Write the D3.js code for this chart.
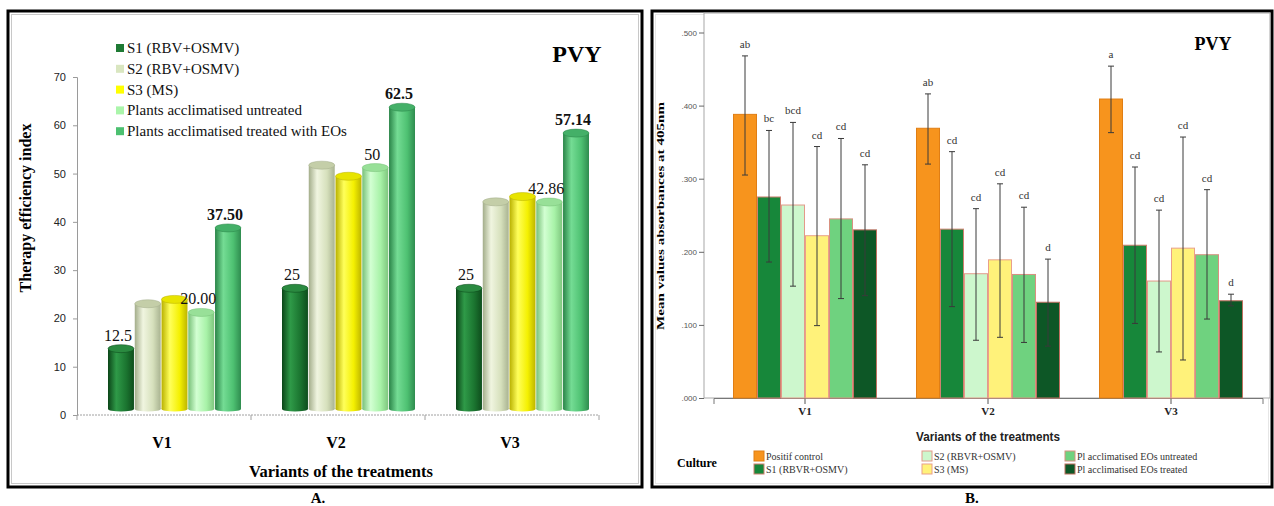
<!DOCTYPE html>
<html>
<head>
<meta charset="utf-8">
<script src="https://cdn.jsdelivr.net/npm/d3@7/dist/d3.min.js"></script>
<style>
  html, body { margin: 0; padding: 0; background: #fff; }
  svg { display: block; }
</style>
</head>
<body>
<svg id="chart" width="1274" height="506"></svg>
<script>
// ---------- Panel A: therapy efficiency index ----------
const variants = ["V1", "V2", "V3"];
const seriesA = [
  "S1 (RBV+OSMV)",
  "S2 (RBV+OSMV)",
  "S3 (MS)",
  "Plants acclimatised untreated",
  "Plants acclimatised treated with EOs"
];
const efficiencyS1 = [12.5, 25, 25];
const efficiencyS2 = [21.8, 50.5, 42.9];
const efficiencyS3 = [22.7, 48.2, 44.0];
const efficiencyUntreated = [20.00, 50, 42.86];
const efficiencyTreated = [37.50, 62.5, 57.14];
const labelS1 = ["12.5", "25", "25"];
const labelS2 = [null, null, null];
const labelS3 = [null, null, null];
const labelUntreated = ["20.00", "50", "42.86"];
const labelTreated = ["37.50", "62.5", "57.14"];
const efficiencyTicks = [0, 10, 20, 30, 40, 50, 60, 70];

// ---------- Panel B: ELISA absorbance ----------
const cultures = [
  "Positif control",
  "S1 (RBVR+OSMV)",
  "S2 (RBVR+OSMV)",
  "S3 (MS)",
  "Pl acclimatised EOs untreated",
  "Pl acclimatised EOs treated"
];
const meanPositif   = [0.388, 0.369, 0.409];
const meanS1        = [0.275, 0.231, 0.209];
const meanS2        = [0.264, 0.170, 0.160];
const meanS3        = [0.222, 0.189, 0.205];
const meanUntreated = [0.245, 0.169, 0.196];
const meanTreated   = [0.230, 0.131, 0.133];
const lowPositif    = [0.305, 0.320, 0.363];
const highPositif   = [0.468, 0.416, 0.454];
const lowS1         = [0.186, 0.125, 0.102];
const highS1        = [0.366, 0.337, 0.316];
const lowS2         = [0.153, 0.079, 0.063];
const highS2        = [0.377, 0.259, 0.257];
const lowS3         = [0.099, 0.083, 0.052];
const highS3        = [0.344, 0.293, 0.357];
const lowUntreated  = [0.136, 0.076, 0.108];
const highUntreated = [0.355, 0.261, 0.285];
const lowTreated    = [0.140, 0.071, 0.126];
const highTreated   = [0.319, 0.190, 0.142];
const groupPositif   = ["ab", "ab", "a"];
const groupS1        = ["bc", "cd", "cd"];
const groupS2        = ["bcd", "cd", "cd"];
const groupS3        = ["cd", "cd", "cd"];
const groupUntreated = ["cd", "cd", "cd"];
const groupTreated   = ["cd", "d", "d"];
const absorbanceTicks = [0, 0.1, 0.2, 0.3, 0.4, 0.5];

const svg = d3.select("#chart");
const defs = svg.append("defs");
const serif = "'Liberation Serif', 'Times New Roman', serif";
const sans = "'Liberation Sans', Arial, sans-serif";

// ================= Panel A =================
const cylinderColors = [
  { edge: "#0b4518", light: "#2f9a48", base: "#1b7530", dark: "#0e4d1c", top: "#2a8a40", key: "#1e7a34" },
  { edge: "#a3ad8a", light: "#f0f5e0", base: "#d6e0bc", dark: "#a9b391", top: "#c4cea8", key: "#d9e6c0" },
  { edge: "#b8b000", light: "#ffff5a", base: "#f4f000", dark: "#bdb500", top: "#e8e400", key: "#ffff00" },
  { edge: "#78c078", light: "#d2ffd2", base: "#a8f2a8", dark: "#7ec67e", top: "#98e098", key: "#aaf5aa" },
  { edge: "#2a8448", light: "#74dc94", base: "#4ec172", dark: "#2f8c4f", top: "#44b068", key: "#4cc070" }
];
cylinderColors.forEach((c, i) => {
  const g = defs.append("linearGradient").attr("id", "cyl" + i)
    .attr("x1", 0).attr("x2", 1).attr("y1", 0).attr("y2", 0);
  g.append("stop").attr("offset", "0%").attr("stop-color", c.edge);
  g.append("stop").attr("offset", "32%").attr("stop-color", c.light);
  g.append("stop").attr("offset", "70%").attr("stop-color", c.base);
  g.append("stop").attr("offset", "100%").attr("stop-color", c.dark);
});

const valuesA = [efficiencyS1, efficiencyS2, efficiencyS3, efficiencyUntreated, efficiencyTreated];
const labelsA = [labelS1, labelS2, labelS3, labelUntreated, labelTreated];

const panelA = svg.append("g");
panelA.append("rect").attr("x", 8).attr("y", 11).attr("width", 634).attr("height", 476)
  .attr("fill", "#fff").attr("stroke", "#000").attr("stroke-width", 3);
panelA.append("rect").attr("x", 11.5).attr("y", 14.5).attr("width", 627).attr("height", 469)
  .attr("fill", "none").attr("stroke", "#c8c8c8").attr("stroke-width", 1);

const xA = d3.scaleBand().domain(variants).range([77, 599]).padding(0);
const xAin = d3.scaleBand().domain(d3.range(seriesA.length)).range([31, 164]).paddingInner(0.03);
const yA = d3.scaleLinear().domain([0, 70]).range([415, 77]);
const depth = 6; // 3D floor offset

// y axis
const yAxisA = panelA.append("g").attr("transform", "translate(77,0)")
  .call(d3.axisLeft(yA).tickValues(efficiencyTicks).tickSize(4).tickPadding(7));
yAxisA.select(".domain").attr("stroke", "#9a9a9a");
yAxisA.selectAll(".tick line").attr("stroke", "#9a9a9a");
yAxisA.selectAll("text").attr("font-family", sans).attr("font-size", 11).attr("fill", "#222");

// x axis (category boundaries)
panelA.append("line").attr("x1", xA.range()[0]).attr("x2", xA.range()[1])
  .attr("y1", yA(0)).attr("y2", yA(0))
  .attr("stroke", "#a0a0a0").attr("stroke-dasharray", "2,1");
const bounds = variants.map(v => xA(v)).concat([xA.range()[1]]);
panelA.selectAll(".xbound").data(bounds).enter().append("line")
  .attr("x1", d => d).attr("x2", d => d).attr("y1", yA(0)).attr("y2", yA(0) + 5)
  .attr("stroke", "#a0a0a0");

panelA.selectAll(".vlabA").data(variants).enter().append("text")
  .attr("x", d => xA(d) + xA.bandwidth() / 2 - 2).attr("y", 448)
  .attr("text-anchor", "middle").attr("font-family", serif).attr("font-weight", "bold")
  .attr("font-size", 16).text(d => d);

panelA.append("text").attr("x", 341).attr("y", 477).attr("text-anchor", "middle")
  .attr("font-family", serif).attr("font-weight", "bold").attr("font-size", 16.5)
  .text("Variants of the treatments");

panelA.append("text").attr("transform", "translate(31,208) rotate(-90)")
  .attr("text-anchor", "middle").attr("font-family", serif).attr("font-weight", "bold")
  .attr("font-size", 16).text("Therapy efficiency index");

// cylinders
const barsA = [];
variants.forEach((v, vi) => {
  seriesA.forEach((s, si) => {
    barsA.push({ vi, si, value: valuesA[si][vi], label: labelsA[si][vi] });
  });
});
const cyl = panelA.selectAll(".cyl").data(barsA).enter().append("g");
const bx = d => xA(variants[d.vi]) + xAin(d.si);
const bw = xAin.bandwidth();
const base = yA(0) - depth;
cyl.append("ellipse").attr("cx", d => bx(d) + bw / 2).attr("cy", base)
  .attr("rx", bw / 2).attr("ry", 2.5).attr("fill", d => "url(#cyl" + d.si + ")");
cyl.append("rect").attr("x", bx).attr("y", d => yA(d.value) - depth)
  .attr("width", bw).attr("height", d => base - (yA(d.value) - depth))
  .attr("fill", d => "url(#cyl" + d.si + ")");
cyl.append("ellipse").attr("cx", d => bx(d) + bw / 2).attr("cy", d => yA(d.value) - depth)
  .attr("rx", bw / 2).attr("ry", 4).attr("fill", d => cylinderColors[d.si].top)
  .attr("stroke", d => cylinderColors[d.si].edge).attr("stroke-width", 0.5);

// value labels
panelA.selectAll(".vlab").data(barsA.filter(d => d.label)).enter().append("text")
  .attr("x", d => bx(d) + bw / 2 - 3).attr("y", d => yA(d.value) - depth - 8)
  .attr("text-anchor", "middle").attr("font-family", serif)
  .attr("font-weight", d => d.si === 4 ? "bold" : "normal")
  .attr("font-size", 16).attr("fill", "#111").text(d => d.label);

// legend
const legA = panelA.append("g");
seriesA.forEach((s, i) => {
  const yy = 48 + i * 20.8;
  legA.append("rect").attr("x", 116).attr("y", yy - 4).attr("width", 8).attr("height", 8)
    .attr("fill", cylinderColors[i].key);
  legA.append("text").attr("x", 127).attr("y", yy + 5).attr("font-family", serif)
    .attr("font-size", 15).attr("fill", "#111").text(s);
});

panelA.append("text").attr("x", 577).attr("y", 62).attr("text-anchor", "middle")
  .attr("font-family", serif).attr("font-weight", "bold").attr("font-size", 24).text("PVY");

svg.append("text").attr("x", 318).attr("y", 503).attr("text-anchor", "middle")
  .attr("font-family", serif).attr("font-weight", "bold").attr("font-size", 15).text("A.");

// ================= Panel B =================
const barColors = ["#f7941d", "#17873a", "#cdf7cd", "#fff27a", "#6fd27f", "#0d5726"];
const barStroke = ["#e07e14", "#d08070", "#e39a8a", "#e9a08a", "#d89080", "#c07060"];
const meansB = [meanPositif, meanS1, meanS2, meanS3, meanUntreated, meanTreated];
const lowsB = [lowPositif, lowS1, lowS2, lowS3, lowUntreated, lowTreated];
const highsB = [highPositif, highS1, highS2, highS3, highUntreated, highTreated];
const groupsB = [groupPositif, groupS1, groupS2, groupS3, groupUntreated, groupTreated];

const panelB = svg.append("g");
panelB.append("rect").attr("x", 652).attr("y", 11).attr("width", 620).attr("height", 476)
  .attr("fill", "#fff").attr("stroke", "#000").attr("stroke-width", 3);
panelB.append("rect").attr("x", 655.5).attr("y", 14.5).attr("width", 613).attr("height", 469)
  .attr("fill", "none").attr("stroke", "#e6e6e6").attr("stroke-width", 1);

const xB = d3.scaleBand().domain(variants).range([713.5, 1262.5]).padding(0);
const xBin = d3.scaleBand().domain(d3.range(cultures.length)).range([19.5, 163.5]).padding(0);
const yB = d3.scaleLinear().domain([0, 0.5]).range([398, 32.5]);
const plotTop = 13, plotLeft = 704, plotRight = 1270;

panelB.append("rect").attr("x", plotLeft).attr("y", plotTop)
  .attr("width", plotRight - plotLeft).attr("height", yB(0) - plotTop)
  .attr("fill", "#fff").attr("stroke", "#a8a8a8").attr("stroke-width", 1);

const yAxisB = panelB.append("g").attr("transform", "translate(" + plotLeft + ",0)")
  .call(d3.axisLeft(yB).tickValues(absorbanceTicks).tickSize(5).tickPadding(2)
    .tickFormat(d => d3.format(".3f")(d).replace(/^0/, "")));
yAxisB.select(".domain").remove();
yAxisB.selectAll(".tick line").attr("stroke", "#666");
yAxisB.selectAll("text").attr("font-family", sans).attr("font-size", 8).attr("fill", "#555");

const xAxisB = panelB.append("g").attr("transform", "translate(0," + yB(0) + ")")
  .call(d3.axisBottom(xB).tickSize(6).tickPadding(3));
xAxisB.select(".domain").attr("stroke", "#777");
xAxisB.selectAll(".tick line").attr("stroke", "#555");
xAxisB.selectAll("text").attr("font-family", serif).attr("font-weight", "bold")
  .attr("font-size", 11).attr("fill", "#222");

const barsB = [];
variants.forEach((v, vi) => {
  cultures.forEach((c, ci) => {
    barsB.push({ vi, ci, mean: meansB[ci][vi], low: lowsB[ci][vi], high: highsB[ci][vi], grp: groupsB[ci][vi] });
  });
});
const bxB = d => xB(variants[d.vi]) + xBin(d.ci);
const bwB = xBin.bandwidth();

panelB.selectAll(".barB").data(barsB).enter().append("rect")
  .attr("x", d => bxB(d) + 0.5).attr("y", d => yB(d.mean))
  .attr("width", bwB - 1).attr("height", d => yB(0) - yB(d.mean))
  .attr("fill", d => barColors[d.ci]).attr("stroke", d => barStroke[d.ci]).attr("stroke-width", 1);

const err = panelB.selectAll(".err").data(barsB).enter().append("g").attr("stroke", "#3a3a3a")
  .attr("stroke-width", 1);
err.append("line").attr("x1", d => bxB(d) + bwB / 2).attr("x2", d => bxB(d) + bwB / 2)
  .attr("y1", d => yB(d.low)).attr("y2", d => yB(d.high));
err.append("line").attr("x1", d => bxB(d) + bwB / 2 - 3).attr("x2", d => bxB(d) + bwB / 2 + 3)
  .attr("y1", d => yB(d.low)).attr("y2", d => yB(d.low));
err.append("line").attr("x1", d => bxB(d) + bwB / 2 - 3).attr("x2", d => bxB(d) + bwB / 2 + 3)
  .attr("y1", d => yB(d.high)).attr("y2", d => yB(d.high));

panelB.selectAll(".grp").data(barsB).enter().append("text")
  .attr("x", d => bxB(d) + bwB / 2).attr("y", d => yB(d.high) - 8)
  .attr("text-anchor", "middle").attr("font-family", serif).attr("font-size", 11)
  .attr("fill", "#333").text(d => d.grp);

panelB.append("text").attr("transform", "translate(664,216) rotate(-90)")
  .attr("text-anchor", "middle").attr("font-family", serif).attr("font-weight", "bold")
  .attr("font-size", 11).attr("textLength", 228).attr("lengthAdjust", "spacingAndGlyphs")
  .text("Mean values absorbances at 405nm");

panelB.append("text").attr("x", 988).attr("y", 441).attr("text-anchor", "middle")
  .attr("font-family", sans).attr("font-weight", "bold").attr("font-size", 12.5)
  .attr("textLength", 144).attr("lengthAdjust", "spacingAndGlyphs").attr("fill", "#222")
  .text("Variants of the treatments");

panelB.append("text").attr("x", 1213).attr("y", 50).attr("text-anchor", "middle")
  .attr("font-family", serif).attr("font-weight", "bold").attr("font-size", 18).text("PVY");

// legend
panelB.append("text").attr("x", 697).attr("y", 467).attr("text-anchor", "middle")
  .attr("font-family", serif).attr("font-weight", "bold").attr("font-size", 12).text("Culture");
const legCols = [754, 922, 1065];
cultures.forEach((c, i) => {
  const col = Math.floor(i / 2), row = i % 2;
  const lx = legCols[col], ly = 451 + row * 13;
  panelB.append("rect").attr("x", lx).attr("y", ly).attr("width", 10).attr("height", 10)
    .attr("fill", barColors[i]).attr("stroke", barStroke[i]).attr("stroke-width", 1);
  panelB.append("text").attr("x", lx + 12).attr("y", ly + 8.5).attr("font-family", serif)
    .attr("font-size", 10).attr("fill", "#333").text(c);
});

svg.append("text").attr("x", 972).attr("y", 503).attr("text-anchor", "middle")
  .attr("font-family", serif).attr("font-weight", "bold").attr("font-size", 15).text("B.");
</script>
</body>
</html>
